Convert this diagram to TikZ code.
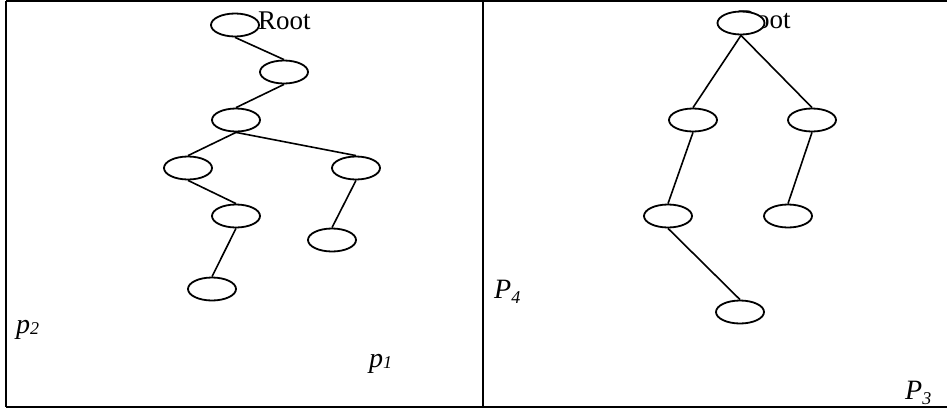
\documentclass[tikz,border=0pt]{standalone}
\usepackage{fontspec}
\setmainfont{Liberation Serif}
\usetikzlibrary{shapes.geometric}
\tikzset{
  tn/.style={draw, ellipse, fill=white, line width=1.8pt, minimum width=48pt, minimum height=23pt, inner sep=0pt},
  edge/.style={line width=1.6pt},
  frame/.style={line width=2.2pt},
  lbl/.style={anchor=base west, inner sep=0pt, font=\fontsize{28}{30}\selectfont},
  rootlbl/.style={anchor=base west, inner sep=0pt, font=\fontsize{27}{30}\selectfont}
}
\newcommand{\lab}[3]{\textit{#1}\raisebox{#3}{\fontsize{18}{18}\selectfont\textit{#2}}}
\begin{document}
\begin{tikzpicture}[x=1pt,y=-1pt]
\useasboundingbox (0,0) rectangle (947,410);
% frame
\draw[frame] (6,1) -- (947,1);
\draw[frame] (6,407) -- (947,407);
\draw[frame] (6,1) -- (6,407);
\draw[frame] (483,1) -- (483,407);
% root labels (drawn first, covered by root ellipses)
\node[rootlbl] (rootL) at (258,29) {Root};
\node[rootlbl] (rootR) at (738,28) {Root};
% left tree
\node[tn] (A) at (235,25) {};
\node[tn] (B) at (284,72) {};
\node[tn] (C) at (236,120) {};
\node[tn] (D) at (188,168) {};
\node[tn] (E) at (356,168) {};
\node[tn] (F) at (236,216) {};
\node[tn] (G) at (332,240) {};
\node[tn] (H) at (212,289) {};
\draw[edge] (A.south) -- (B.north);
\draw[edge] (B.south) -- (C.north);
\draw[edge] (C.south) -- (D.north);
\draw[edge] (C.south) -- (E.north);
\draw[edge] (D.south) -- (F.north);
\draw[edge] (E.south) -- (G.north);
\draw[edge] (F.south) -- (H.north);
% right tree
\node[tn, minimum width=47pt] (R) at (741,23) {};
\node[tn] (L1) at (693,120) {};
\node[tn] (R1) at (812,120) {};
\node[tn] (L2) at (668,216) {};
\node[tn] (R2) at (788,216) {};
\node[tn] (L3) at (740,312) {};
\draw[edge] (R.south) -- (L1.north);
\draw[edge] (R.south) -- (R1.north);
\draw[edge] (L1.south) -- (L2.north);
\draw[edge] (R1.south) -- (R2.north);
\draw[edge] (L2.south) -- (L3.north);
% region labels
\node[lbl] (p2) at (16,333) {\lab{p}{2}{-1pt}};
\node[lbl] (p1) at (369,367) {\lab{p}{1}{-1pt}};
\node[lbl] (P4) at (494,298) {\lab{P}{4}{-5pt}};
\node[lbl] (P3) at (905,399) {\lab{P}{3}{-5pt}};
\end{tikzpicture}
\end{document}
